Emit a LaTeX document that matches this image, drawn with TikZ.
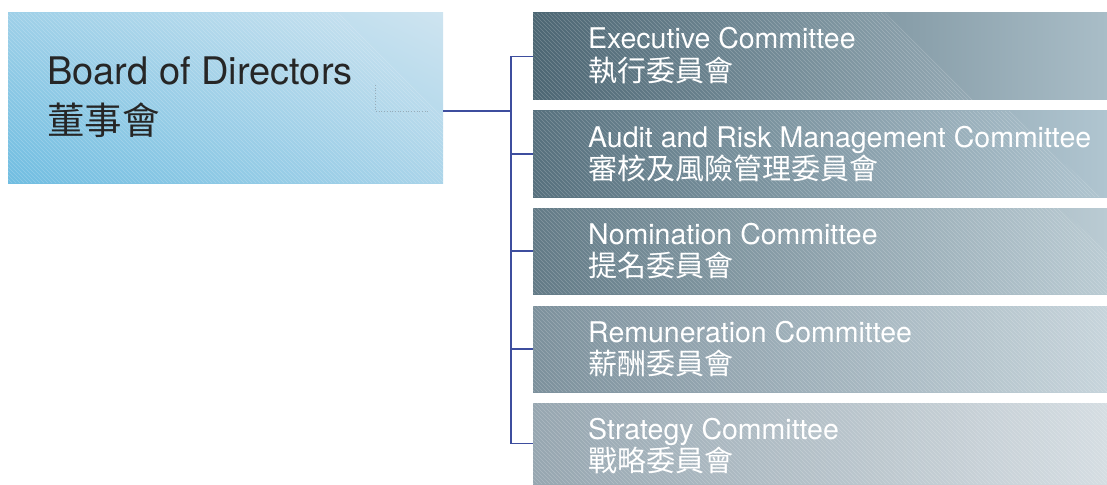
\documentclass[tikz,border=0pt]{standalone}
\usepackage{fontspec}
\usetikzlibrary{shadings}
\setmainfont{TeX Gyre Heros}
\newfontfamily\cjk{Noto Sans CJK TC}
\definecolor{connc}{RGB}{62,78,158}
\definecolor{bdLL}{RGB}{112,189,225}
\definecolor{bdUL}{RGB}{158,208,232}
\definecolor{bdLR}{RGB}{170,212,233}
\definecolor{bdUR}{RGB}{206,228,240}
\definecolor{c1l}{RGB}{76,102,115}
\definecolor{c1r}{RGB}{169,189,199}
\definecolor{c2l}{RGB}{86,112,125}
\definecolor{c2r}{RGB}{176,197,208}
\definecolor{c3l}{RGB}{98,122,134}
\definecolor{c3r}{RGB}{186,203,211}
\definecolor{c4l}{RGB}{124,144,156}
\definecolor{c4r}{RGB}{198,212,219}
\definecolor{c5l}{RGB}{150,166,176}
\definecolor{c5r}{RGB}{213,221,226}
\definecolor{dotc}{RGB}{150,172,185}
\begin{document}
\begin{tikzpicture}[x=1pt,y=-1pt,
  hatch/.style={white,opacity=0.22,line width=0.45pt},
  conn/.style={draw=connc,line width=1.3pt},
  boxnode/.style={inner sep=0pt,outer sep=0pt,draw=none},
  en/.style={anchor=base west,inner sep=0pt,text=white,font=\fontsize{28.5}{30}\selectfont},
  zh/.style={anchor=base west,inner sep=0pt,text=white,font=\cjk\fontsize{29}{30}\selectfont},
  benl/.style={anchor=base west,inner sep=0pt,text=black!85,font=\fontsize{38}{40}\selectfont},
  bzh/.style={anchor=base west,inner sep=0pt,text=black!85,font=\cjk\fontsize{37.5}{40}\selectfont}
]
\useasboundingbox (0,0) rectangle (1107,484);

% Board of Directors box
\node[boxnode,minimum width=435pt,minimum height=170pt,
  lower left=bdLL,upper left=bdUL,lower right=bdLR,upper right=bdUR] (board) at (225.5,98) {};
\begin{scope}
  \clip (board.north west) rectangle (board.south east);
  \clip (8,13) -- (340,13) -- (443,116) -- (443,183) -- (8,183) -- cycle;
  \foreach \k in {0,...,160} \draw[hatch] ({8-170+4*\k},13) -- ++(180,180);
\end{scope}
\draw[dotc,dotted,line width=0.7pt] (375,85) -- (375,111) -- (428,111);
\node[benl] (bden) at (47,85) {Board of Directors};
\node[bzh] (bdzh) at (47,134.5) {董事會};

% Committee boxes
\foreach \i/\t/\b/\bx/\en/\zh in {
  1/13/100/885/Executive Committee/執行委員會,
  2/111/197/1010/Audit and Risk Management Committee/審核及風險管理委員會,
  3/208/294/1060/Nomination Committee/提名委員會,
  4/306/392/1300/Remuneration Committee/薪酬委員會,
  5/403/484/1300/Strategy Committee/戰略委員會}{
  \node[boxnode,minimum width=574pt,minimum height={(\b-\t)*1pt},
    left color=c\i l,right color=c\i r] (c\i) at (820,{(\t+\b)/2}) {};
  \begin{scope}
    \clip (c\i.north west) rectangle (c\i.south east);
    \clip (533,\t) -- (\bx,\t) -- ({\bx+90},\b) -- (533,\b) -- cycle;
    \foreach \k in {0,...,200} \draw[hatch] ({533-100+4*\k},\t) -- ++(110,110);
  \end{scope}
  \node[en] (e\i) at (588,{\t+36}) {\en};
  \node[zh] (z\i) at (588,{\t+68.5}) {\zh};
}

% Connectors
\coordinate (bj) at (511,111);
\draw[conn] (board.east |- bj) -- (bj);
\draw[conn] (c1.west -| bj) -- (c5.west -| bj);
\foreach \i in {1,...,5} \draw[conn] (c\i.west -| bj) -- (c\i.west);
\end{tikzpicture}
\end{document}
